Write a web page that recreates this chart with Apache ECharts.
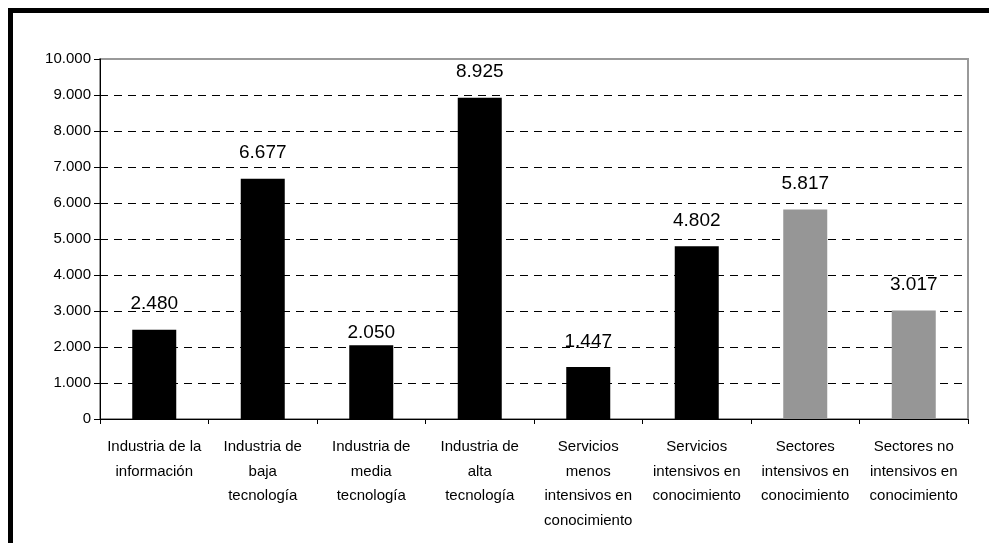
<!DOCTYPE html>
<html>
<head>
<meta charset="utf-8">
<script src="https://cdn.jsdelivr.net/npm/echarts@6/dist/echarts.min.js"></script>
<style>
  html, body { margin: 0; padding: 0; background: #fff; }
  #chart { width: 989px; height: 543px; }
</style>
</head>
<body>
<div id="chart"></div>
<script>
// categorias del eje x
const categories = [
  'Industria de la\ninformación',
  'Industria de\nbaja\ntecnología',
  'Industria de\nmedia\ntecnología',
  'Industria de\nalta\ntecnología',
  'Servicios\nmenos\nintensivos en\nconocimiento',
  'Servicios\nintensivos en\nconocimiento',
  'Sectores\nintensivos en\nconocimiento',
  'Sectores no\nintensivos en\nconocimiento'
];
const values = [2480, 6677, 2050, 8925, 1447, 4802, 5817, 3017];
const barColors = ['#000', '#000', '#000', '#000', '#000', '#000', '#969696', '#969696'];
const yTickLabels = ['0', '1.000', '2.000', '3.000', '4.000', '5.000', '6.000', '7.000', '8.000', '9.000', '10.000'];

const fmt = v => v.toString().replace(/\B(?=(\d{3})+(?!\d))/g, '.');

const chart = echarts.init(document.getElementById('chart'));

const option = {
  animation: false,
  textStyle: { fontFamily: 'Liberation Sans, Arial, sans-serif' },
  graphic: [
    // marco negro de la figura
    { type: 'rect', shape: { x: 8, y: 8, width: 981, height: 5 }, style: { fill: '#000' } },
    { type: 'rect', shape: { x: 8, y: 8, width: 5, height: 535 }, style: { fill: '#000' } }
  ],
  grid: {
    left: 100, right: 21, top: 59, bottom: 124,
    show: true, borderColor: '#999', borderWidth: 2, backgroundColor: 'transparent'
  },
  xAxis: {
    type: 'category',
    data: categories,
    axisLine: { lineStyle: { color: '#000', width: 1 } },
    axisTick: { show: true, length: 5, lineStyle: { color: '#000' } },
    axisLabel: {
      interval: 0, color: '#000', fontSize: 15, lineHeight: 24.5, margin: 16
    }
  },
  yAxis: {
    type: 'value',
    min: 0, max: 10000, interval: 1000,
    axisLine: { show: true, lineStyle: { color: '#000', width: 1 } },
    axisTick: { show: true, length: 6, lineStyle: { color: '#000' } },
    axisLabel: {
      color: '#000', fontSize: 15, margin: 9,
      formatter: (v) => yTickLabels[Math.round(v / 1000)]
    },
    splitLine: {
      show: true,
      lineStyle: {
        color: ['#000', '#000', '#000', '#000', '#000', '#000', '#000', '#000', '#000', '#000', 'rgba(0,0,0,0)'],
        width: 1, type: [8, 6]
      }
    }
  },
  series: [{
    type: 'bar',
    barWidth: 44,
    data: values.map((v, i) => ({
      value: v,
      itemStyle: { color: barColors[i] },
      // la etiqueta de 2.050 está más cerca de la barra
      label: i === 2 ? { offset: [0, 13] } : undefined
    })),
    label: {
      show: true, position: 'top', distance: 16,
      color: '#000', fontSize: 19,
      formatter: p => fmt(p.value)
    }
  }]
};

chart.setOption(option);
</script>
</body>
</html>
